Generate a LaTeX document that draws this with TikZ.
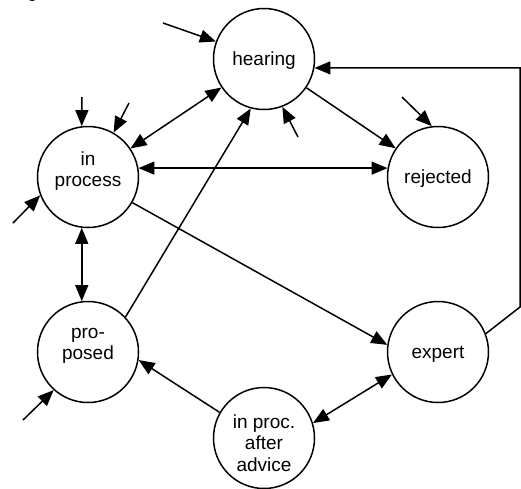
\documentclass[tikz,border=0pt]{standalone}
\usepackage{fontspec}
\setmainfont{Liberation Sans}
\usetikzlibrary{arrows.meta}
\begin{document}
\begin{tikzpicture}[x=1pt,y=-1pt,
  state/.style={draw,circle,line width=1.5pt,minimum size=101pt,inner sep=0pt},
  lbl/.style={align=center,inner sep=0pt,font=\fontsize{19}{21.6}\selectfont},
  link/.style={line width=1.5pt},
  >={Triangle[length=16pt,width=13pt]}]
\useasboundingbox (0,0) rectangle (521,488);

% caption fragment at the upper edge
\node[anchor=base west,lbl] (frag) at (27,-3) {g};

% states
\node[state] (hear)   at (264,59)  {};
\node[state] (inproc) at (88,177)  {};
\node[state] (rej)    at (438,177) {};
\node[state] (prop)   at (88,352)  {};
\node[state] (exp)    at (438,352) {};
\node[state] (adv)    at (264,438) {};

% state names
\node[lbl] (hearT)   at (264,61)  {hearing};
\node[lbl] (inprocT) at (88,171)  {in\\process};
\node[lbl] (rejT)    at (438,179) {rejected};
\node[lbl] (propT)   at (88,346)  {pro-\\posed};
\node[lbl] (expT)    at (438,354) {expert};
\node[lbl] (advT)    at (264,443) {in proc.\\after\\advice};

% free ends of the entry arrows
\coordinate (eHear)  at (163,23);
\coordinate (eIn1)   at (82,97);
\coordinate (eIn2)   at (129,103);
\coordinate (eIn3)   at (13,223);
\coordinate (eRej)   at (402,97);
\coordinate (eProp)  at (23,420);
\coordinate (eHear2) at (298,137);
\coordinate (bend)   at (520,307);

% entry arrows
\draw[link,->] (eHear)  -- (hear.160);
\draw[link,->] (eIn1)   -- (inproc.97);
\draw[link,->] (eIn2)   -- (inproc.60);
\draw[link,->] (eIn3)   -- (inproc.201);
\draw[link,->] (eRej)   -- (rej.97);
\draw[link,->] (eProp)  -- (prop.228);
\draw[link,->] (eHear2) -- (hear.291);

% transitions
\draw[link,<->] (hear) -- (inproc);
\draw[link,->]  (hear) -- (rej);
\draw[link,<->] (inproc.10) -- (rej.170);
\draw[link,->]  (prop.43) -- (hear.255);
\draw[link,->]  (inproc.-30) -- (exp.172);
\draw[link,<->] (inproc.263) -- (prop.97);
\draw[link,->]  (adv.150) -- (prop.-9);
\draw[link,<->] (exp.206) -- (adv.17);
\draw[link,->]  (exp.21) -- (bend) |- (hear.350);
\end{tikzpicture}
\end{document}
